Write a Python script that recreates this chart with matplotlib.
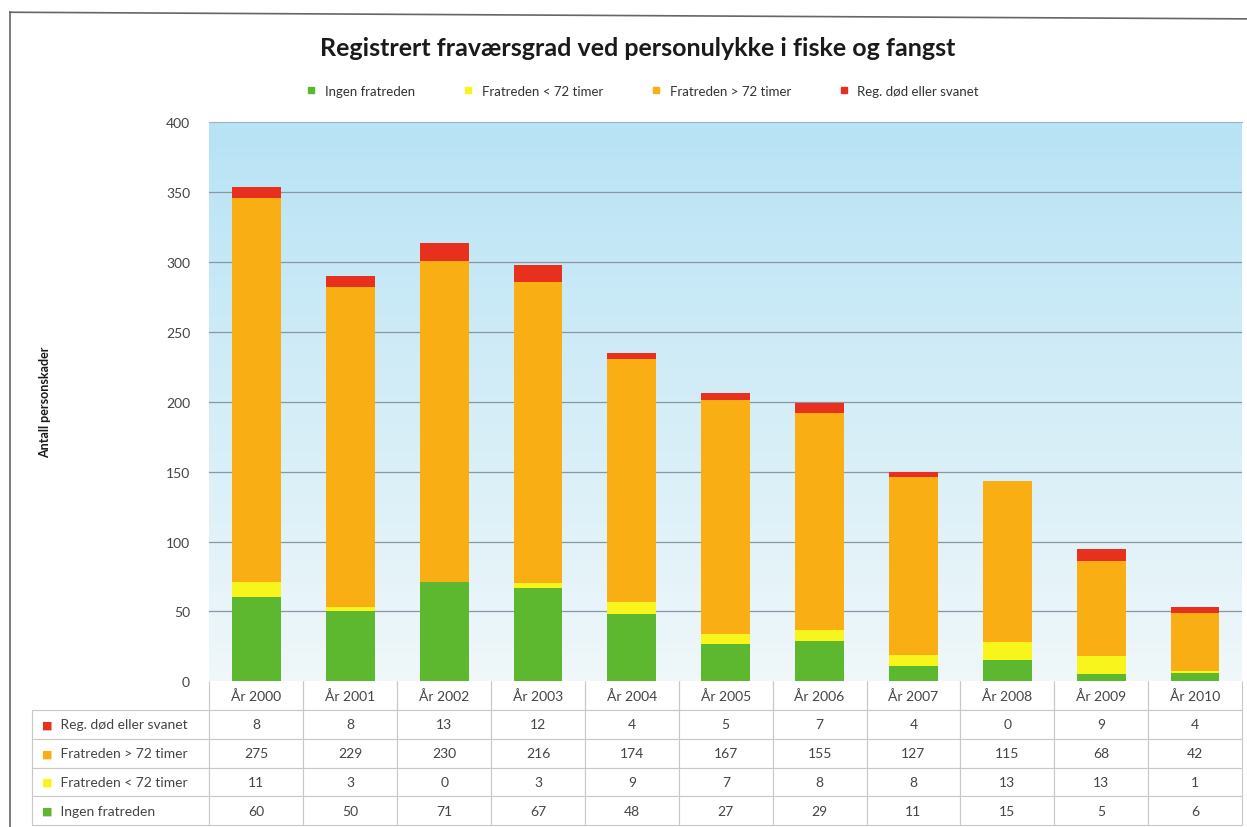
import matplotlib.pyplot as plt
import numpy as np
from matplotlib.lines import Line2D

years = ['År 2000', 'År 2001', 'År 2002', 'År 2003', 'År 2004', 'År 2005',
         'År 2006', 'År 2007', 'År 2008', 'År 2009', 'År 2010']
ingen = [60, 50, 71, 67, 48, 27, 29, 11, 15, 5, 6]
under72 = [11, 3, 0, 3, 9, 7, 8, 8, 13, 13, 1]
over72 = [275, 229, 230, 216, 174, 167, 155, 127, 115, 68, 42]
dod = [8, 8, 13, 12, 4, 5, 7, 4, 0, 9, 4]

names = ['Ingen fratreden', 'Fratreden < 72 timer', 'Fratreden > 72 timer',
         'Reg. død eller svanet']
colors = ['#5db72f', '#f8f51c', '#f9ae14', '#e8301e']

plt.rcParams['font.family'] = ['Lato', 'DejaVu Sans']

fig = plt.figure(figsize=(12.47, 8.28), dpi=100)
ax = fig.add_axes([0.168, 0.176, 0.828, 0.675])

x = np.arange(len(years))
ax.set_xlim(-0.5, len(years) - 0.5)
ax.set_ylim(0, 400)

# light blue gradient behind the bars
grad = np.linspace(1, 0, 256).reshape(-1, 1)
top = np.array([0.72, 0.89, 0.96])
bot = np.array([0.94, 0.97, 0.98])
img = bot + (top - bot) * grad[..., None]
ax.imshow(img, extent=[-0.5, len(years) - 0.5, 0, 400], aspect='auto',
          zorder=0, origin='upper')

for v in range(50, 400, 50):
    ax.axhline(v, color='#8796a2', lw=0.9, zorder=1)

series = [ingen, under72, over72, dod]
bottom = np.zeros(len(years))
for vals, name, c in zip(series, names, colors):
    ax.bar(x, vals, 0.52, bottom=bottom, color=c, label=name, zorder=2)
    bottom += np.array(vals)

ax.set_yticks(range(0, 401, 50))
ax.tick_params(axis='y', length=0, pad=14, labelsize=10, labelcolor='#444444')
ax.set_xticks([])
for s in ['left', 'right', 'bottom']:
    ax.spines[s].set_visible(False)
ax.spines['top'].set_color('#9fb3c0')

fig.text(0.036, 0.514, 'Antall personskader', rotation=90, ha='center',
         va='center', fontsize=9, fontweight='bold', color='#1a1a1a')

fig.text(0.511, 0.942, 'Registrert fraværsgrad ved personulykke i fiske og fangst',
         ha='center', va='center', fontsize=18, fontweight='bold', color='#1a1a1a')

handles = [Line2D([], [], marker='s', ls='', color=c, markersize=5) for c in colors]
fig.legend(handles, names, loc='center', bbox_to_anchor=(0.512, 0.889), ncol=4,
           frameon=False, fontsize=9.5, handletextpad=0.05, columnspacing=3.0,
           labelcolor='#333333')

# data table under the bars
row_names = names[::-1]
row_vals = series[::-1]
cell_text = [['   ' + n] + [str(v) for v in vals] for n, vals in zip(row_names, row_vals)]
col_labels = [''] + years
w_label = 178
w_col = (1245 - 210) / len(years)
widths = [w_label] + [w_col] * len(years)
tot = sum(widths)
tab = ax.table(cellText=cell_text, colLabels=col_labels,
               colWidths=[w / tot for w in widths], cellLoc='center',
               bbox=[-(210 - 32) / 1035, -(826 - 682) / 559, tot / 1035, 144 / 559])
tab.auto_set_font_size(False)
tab.set_fontsize(10)
for (r, c), cell in tab.get_celld().items():
    cell.set_edgecolor('#c8c8c8')
    cell.set_linewidth(0.8)
    cell.get_text().set_color('#444444')
    if c == 0:
        cell.get_text().set_ha('left')
        cell._loc = 'left'
    if r == 0:
        cell.visible_edges = 'BLR' if c > 0 else ''

# colour keys in the row label cells
fig.canvas.draw()
inv = fig.transFigure.inverted()
for i, c in enumerate(colors[::-1]):
    bb = tab[i + 1, 0].get_window_extent(fig.canvas.get_renderer())
    (x0, y0), (x1, y1) = inv.transform([[bb.x0, bb.y0], [bb.x1, bb.y1]])
    fig.text(x0 + 0.012, (y0 + y1) / 2, '■', color=c, fontsize=8,
             ha='center', va='center', family='DejaVu Sans')

# outer chart frame
fig.add_artist(Line2D([0.008, 0.008], [0.0, 0.984], color='#666666', lw=1.2))
fig.add_artist(Line2D([0.008, 1.0], [0.984, 0.976], color='#666666', lw=1.2))

fig.savefig('out.png', dpi=100)
